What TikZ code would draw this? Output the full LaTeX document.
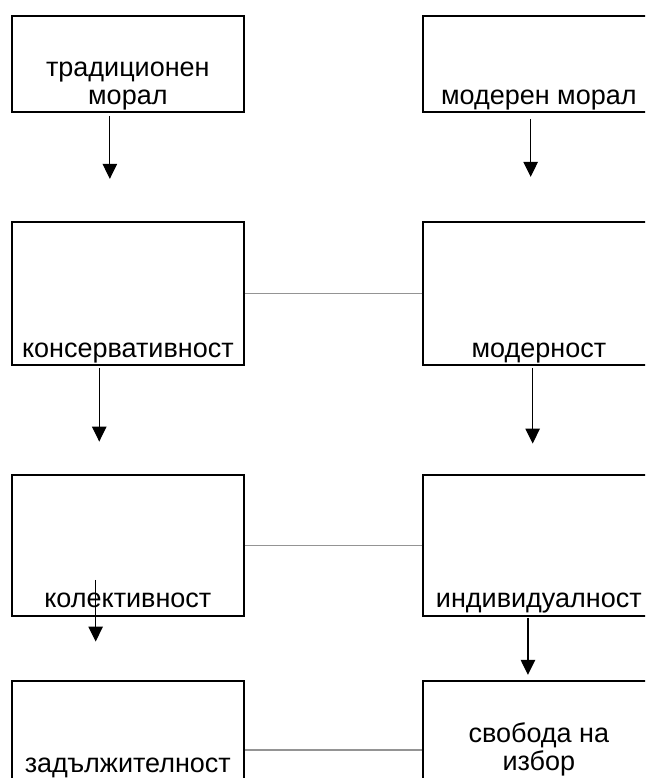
\documentclass[tikz,border=0pt]{standalone}
\usepackage{fontspec}
\setmainfont{Liberation Sans}
\usetikzlibrary{arrows.meta,positioning}
\tikzset{
  moralbox/.style={draw=black,line width=1.7pt,minimum width=232.3pt,inner sep=0pt},
  boxtext/.style={font=\fontsize{27}{28.3}\selectfont,inner sep=0pt,align=center,anchor=base},
  downarrow/.style={-{Triangle[length=15pt,width=14.5pt]},line width=1.1pt,draw=black},
  pairlink/.style={line width=1.5pt,draw=black!42}
}
\begin{document}
\begin{tikzpicture}[x=1pt,y=-1pt,node distance=108.6pt and 177pt]
\useasboundingbox (0,0) rectangle (645,778);
\clip (0,0) rectangle (645,778);
% boxes
\node[moralbox,minimum height=96pt] (trad) at (127.85,63.7) {};
\node[moralbox,minimum height=96pt,right=of trad] (mod) {};
\node[moralbox,minimum height=143pt,below=of trad] (kons) {};
\node[moralbox,minimum height=143pt,right=of kons] (modn) {};
\node[moralbox,minimum height=141pt,below=108.3pt of kons] (kol) {};
\node[moralbox,minimum height=141pt,right=of kol] (ind) {};
\node[moralbox,minimum height=100pt,below=63.3pt of kol] (zad) {};
\node[moralbox,minimum height=100pt,right=of zad] (svob) {};

% texts
\node[boxtext] (tradtxt) at ([yshift=7.7pt]trad.south) {традиционен\\морал};
\node[boxtext] (modtxt) at ([yshift=7.7pt]mod.south) {модерен морал};
\node[boxtext] (konstxt) at ([yshift=8.3pt]kons.south) {консервативност};
\node[boxtext] (modntxt) at ([yshift=8.3pt]modn.south) {модерност};
\node[boxtext] (koltxt) at ([yshift=9pt]kol.south) {колективност};
\node[boxtext] (indtxt) at ([yshift=9pt]ind.south) {индивидуалност};
\node[boxtext] (zadtxt) at ([yshift=9.3pt]zad.south) {задължителност};
\node[boxtext] (svobtxt) at ([yshift=11pt]svob.south) {свобода на\\избор};

% arrows
\draw[downarrow] ([xshift=-18pt,yshift=-3.3pt]trad.south) -- ++(0,63);
\draw[downarrow] ([xshift=-8.2pt,yshift=-6.3pt]mod.south) -- ++(0,58);
\draw[downarrow] ([xshift=-28.6pt,yshift=-2pt]kons.south) -- ++(0,73.7);
\draw[downarrow] ([xshift=-6.2pt,yshift=-2pt]modn.south) -- ++(0,75.7);
\draw[downarrow] ([xshift=-32.2pt,yshift=37pt]kol.south) -- ++(0,61.7);
\draw[downarrow] ([xshift=-10.9pt,yshift=-1pt]ind.south) -- ++(0,57);

% links
\draw[pairlink] (kons.east) -- (modn.west);
\draw[pairlink] (kol.east) -- (ind.west);
\draw[pairlink] ([yshift=-19pt]zad.east) -- ([yshift=-19pt]svob.west);
\end{tikzpicture}
\end{document}
